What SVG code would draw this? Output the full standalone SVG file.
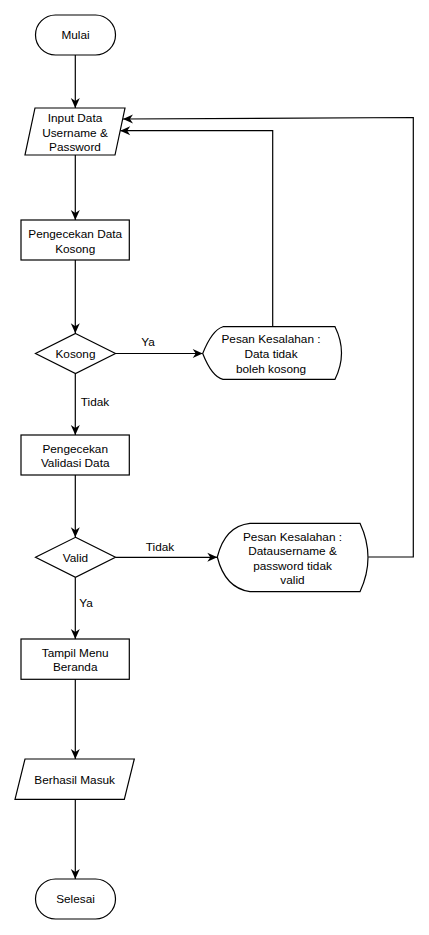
<svg xmlns="http://www.w3.org/2000/svg" width="429" height="935" viewBox="0 0 429 935">
<style>
.s{fill:#fff;stroke:#000;stroke-width:1.2}
.t{font-family:"Liberation Sans",Arial,sans-serif;font-size:11.8px;fill:#000;text-anchor:middle}
.c{fill:none;stroke:#000;stroke-width:1.2}
</style>
<defs>
<marker id="a" markerUnits="userSpaceOnUse" markerWidth="11" markerHeight="9" refX="10" refY="4.5" orient="auto" overflow="visible">
<path d="M0,0 L10,4.5 L0,9 L3,4.5 z" fill="#000"/>
</marker>
</defs>
<rect width="429" height="935" fill="#fff"/>
<g id="connectors">
<path class="c" marker-end="url(#a)" d="M75.3,55 V108"/>
<path class="c" marker-end="url(#a)" d="M75.3,155 V220"/>
<path class="c" marker-end="url(#a)" d="M75.3,260 V333.3"/>
<path class="c" marker-end="url(#a)" d="M115.5,353.5 H202.7"/>
<path class="c" marker-end="url(#a)" d="M272.7,326.7 V130.7 H120.2"/>
<path class="c" marker-end="url(#a)" d="M75.3,373.5 V435"/>
<path class="c" marker-end="url(#a)" d="M75.3,475 V537.3"/>
<path class="c" marker-end="url(#a)" d="M115.5,557.3 H217.3"/>
<path class="c" marker-end="url(#a)" d="M368.3,557 H413.3 V117.5 L123,119"/>
<path class="c" marker-end="url(#a)" d="M75.3,577.3 V639"/>
<path class="c" marker-end="url(#a)" d="M75.3,679.3 V759"/>
<path class="c" marker-end="url(#a)" d="M75.3,799.3 V879"/>
<text class="t" x="148" y="345.8">Ya</text>
<text class="t" x="95" y="405.8">Tidak</text>
<text class="t" x="160" y="550.8">Tidak</text>
<text class="t" x="86" y="607.4">Ya</text>
</g>
<g id="mulai">
<rect class="s" x="35.5" y="15" width="80" height="40" rx="20"/>
<text class="t" x="75.5" y="39.2">Mulai</text>
</g>
<g id="input">
<path class="s" d="M35,108 H125 L115,155 H25 Z"/>
<text class="t" x="75" y="122.4">Input Data</text>
<text class="t" x="75" y="136.8">Username &amp;</text>
<text class="t" x="75" y="150.8">Password</text>
</g>
<g id="cek-kosong">
<rect class="s" x="21" y="220" width="108.3" height="40"/>
<text class="t" x="75.2" y="238.4">Pengecekan Data</text>
<text class="t" x="75.2" y="253.4">Kosong</text>
</g>
<g id="kosong">
<path class="s" d="M75.5,333.5 L115.5,353.5 L75.5,373.5 L35.5,353.5 Z"/>
<text class="t" x="75.5" y="357.8">Kosong</text>
</g>
<g id="pesan1">
<path class="s" d="M223,326.7 H335 Q348,353 335,379.3 H223 Q212,377 202.7,353.5 Q212,330 223,326.7 Z"/>
<text class="t" x="271" y="343.4">Pesan Kesalahan :</text>
<text class="t" x="271" y="358.4">Data tidak</text>
<text class="t" x="271" y="373.4">boleh kosong</text>
</g>
<g id="cek-validasi">
<rect class="s" x="21" y="435" width="108.3" height="40"/>
<text class="t" x="75.2" y="453.4">Pengecekan</text>
<text class="t" x="75.2" y="467.4">Validasi Data</text>
</g>
<g id="valid">
<path class="s" d="M75.5,537.3 L115.5,557.3 L75.5,577.3 L35.5,557.3 Z"/>
<text class="t" x="75.5" y="561.6">Valid</text>
</g>
<g id="pesan2">
<path class="s" d="M250,523.3 H360 Q376,557.5 360,591.7 H250 Q225,588 217.3,557 Q225,526 250,523.3 Z"/>
<text class="t" x="292.5" y="541.4">Pesan Kesalahan :</text>
<text class="t" x="292.5" y="555.1">Datausername &amp;</text>
<text class="t" x="292.5" y="569.8">password tidak</text>
<text class="t" x="292.5" y="584.1">valid</text>
</g>
<g id="beranda">
<rect class="s" x="21" y="639" width="108.3" height="40.3"/>
<text class="t" x="75.2" y="657.4">Tampil Menu</text>
<text class="t" x="75.2" y="670.8">Beranda</text>
</g>
<g id="berhasil">
<path class="s" d="M25,759 H134.3 L124.3,799.3 H15 Z"/>
<text class="t" x="74.7" y="784.1">Berhasil Masuk</text>
</g>
<g id="selesai">
<rect class="s" x="35.5" y="879" width="80" height="40" rx="20"/>
<text class="t" x="75.5" y="903.2">Selesai</text>
</g>
</svg>
